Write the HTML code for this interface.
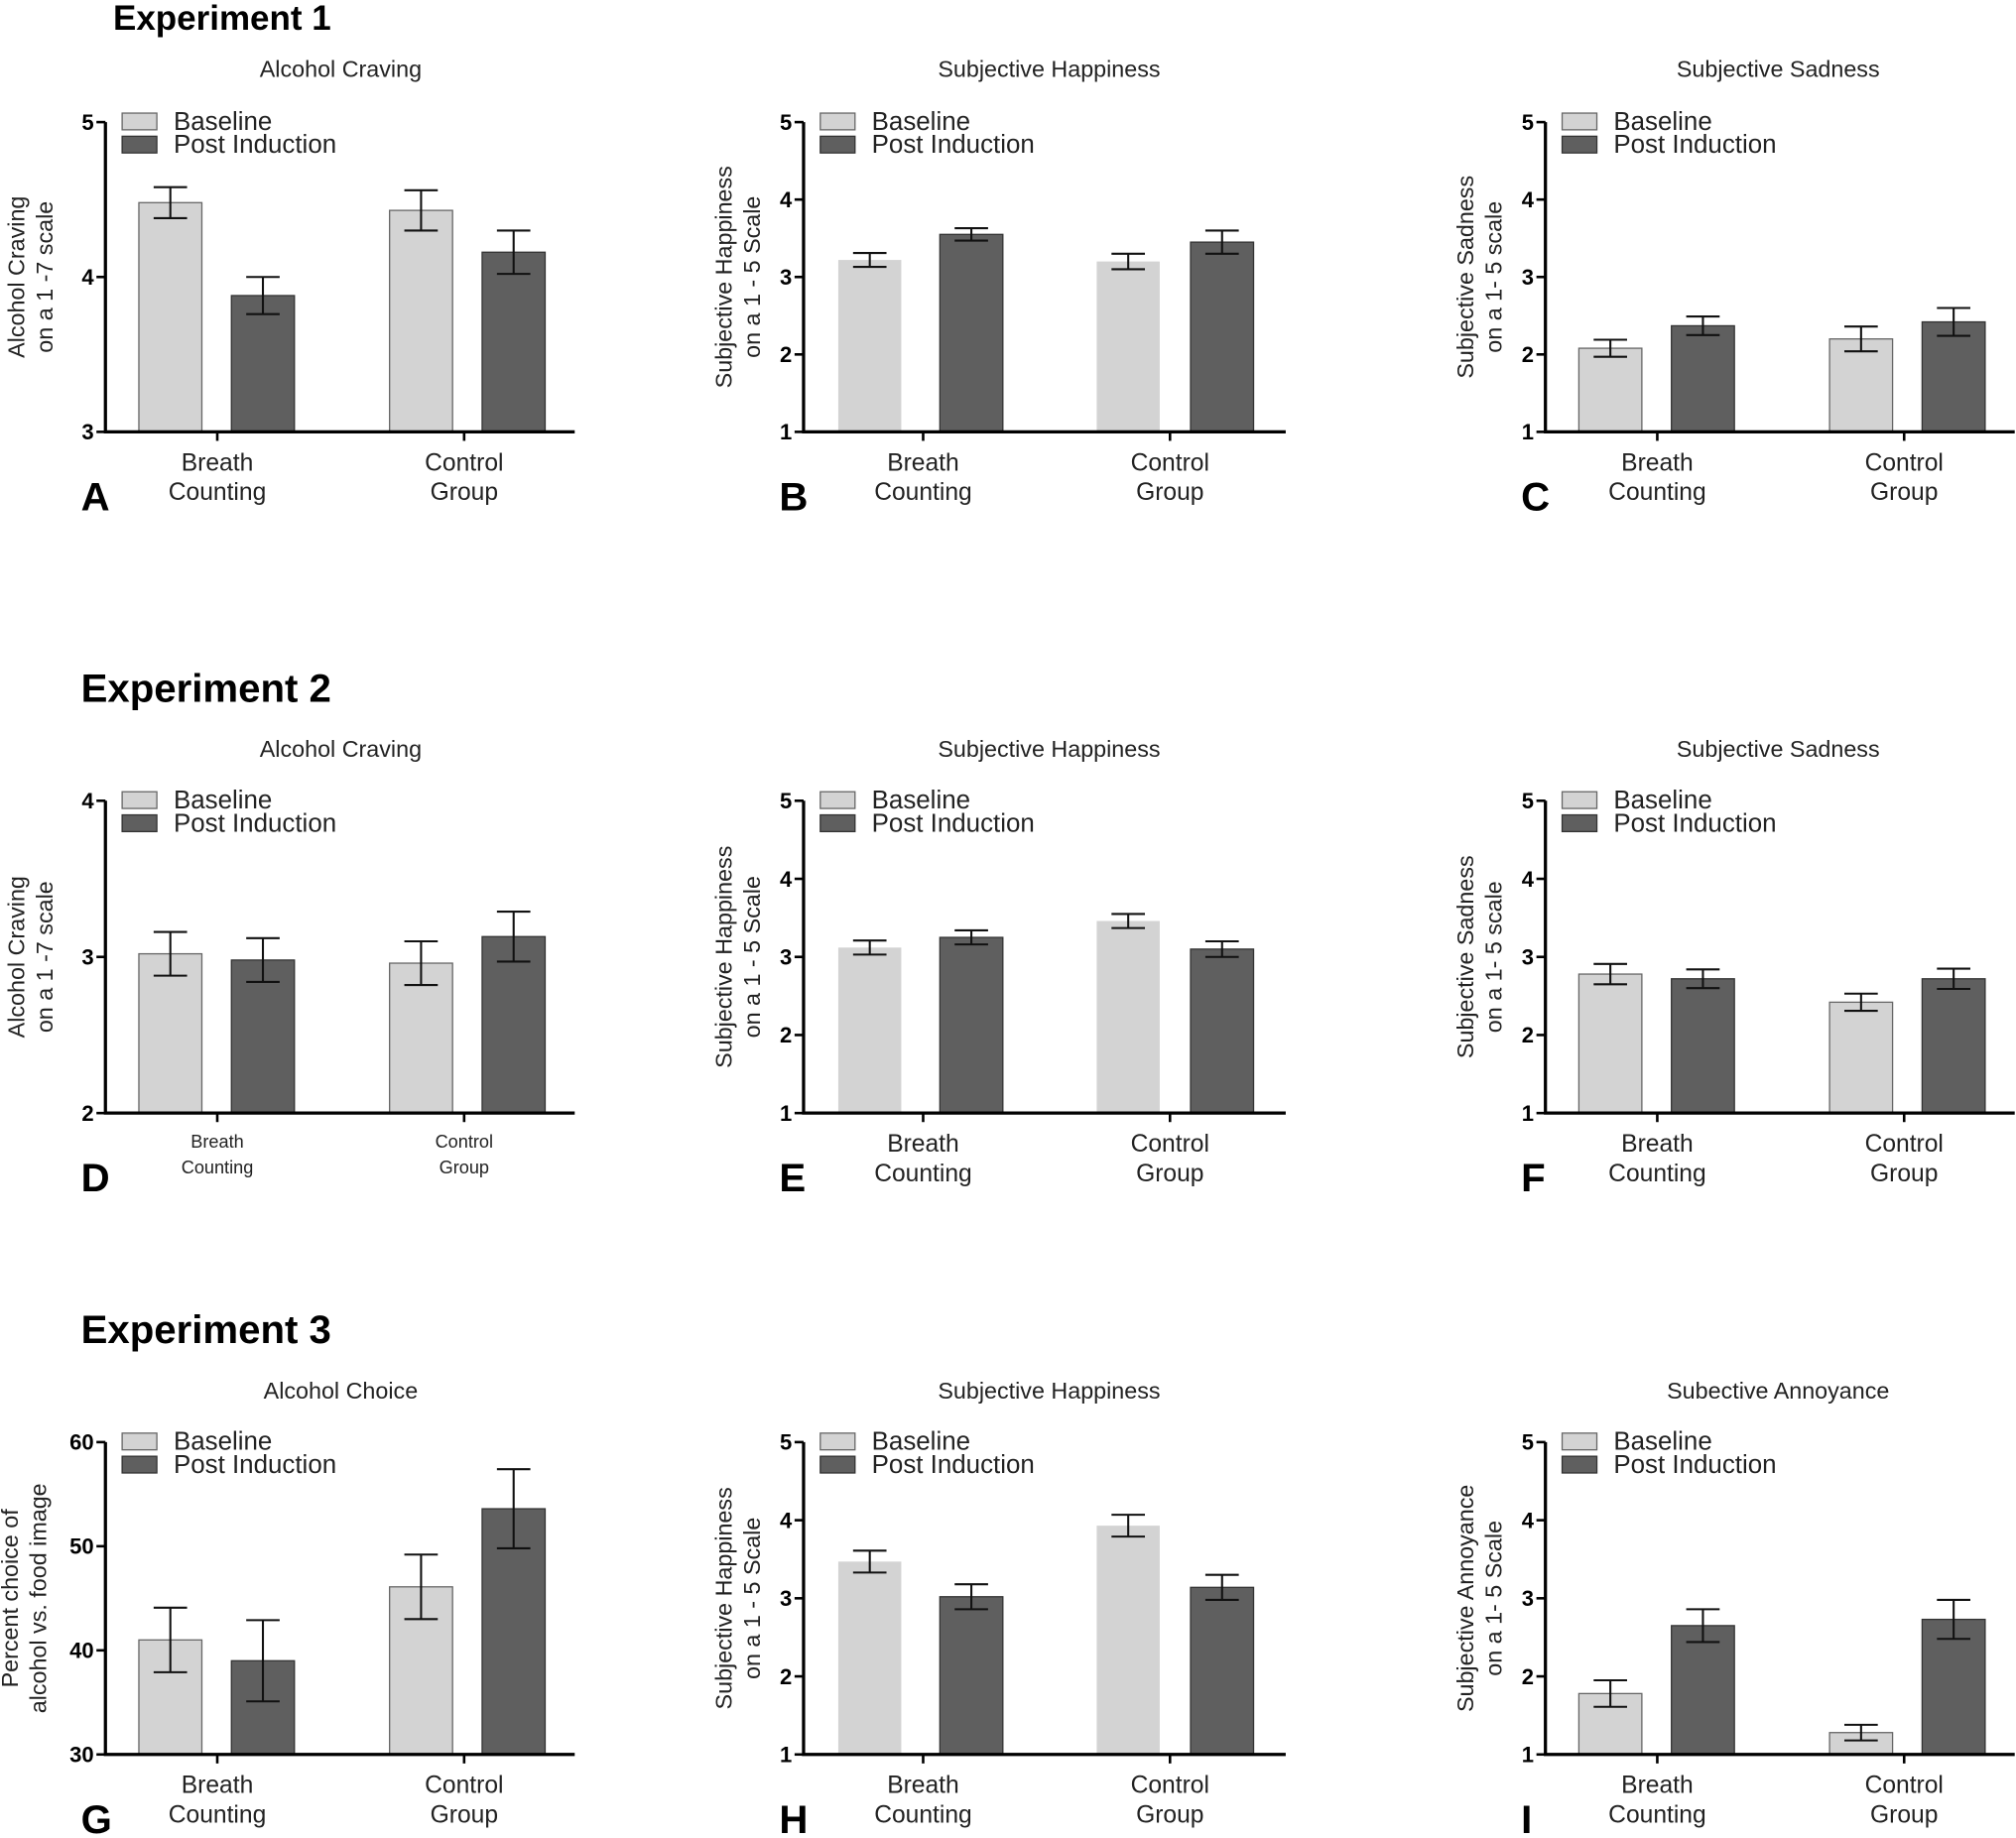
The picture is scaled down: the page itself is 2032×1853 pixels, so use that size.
<!DOCTYPE html>
<html><head><meta charset="utf-8"><style>
html,body{margin:0;padding:0;background:#fff;}
svg{display:block;font-family:"Liberation Sans",Arial,sans-serif;}
</style></head><body>
<svg id="fig" width="2032" height="1853" viewBox="0 0 1568 1430" preserveAspectRatio="none" xmlns="http://www.w3.org/2000/svg">
<text x="88" y="23" font-size="27" font-weight="bold">Experiment 1</text>
<text x="63" y="546" font-size="31" font-weight="bold">Experiment 2</text>
<text x="63" y="1045" font-size="31" font-weight="bold">Experiment 3</text>
</svg>
<script>
const categories = ["Breath|Counting", "Control|Group"];
const panelLetters = ["A","B","C","D","E","F","G","H","I"];
const panelTitles = ["Alcohol Craving","Subjective Happiness","Subjective Sadness","Alcohol Craving","Subjective Happiness","Subjective Sadness","Alcohol Choice","Subjective Happiness","Subective Annoyance"];
const yTitles = ["Alcohol Craving|on a 1 -7 scale","Subjective Happiness|on a 1 - 5 Scale","Subjective Sadness|on a 1- 5 scale","Alcohol Craving|on a 1 -7 scale","Subjective Happiness|on a 1 - 5 Scale","Subjective Sadness|on a 1- 5 scale","Percent choice of|alcohol vs. food image","Subjective Happiness|on a 1 - 5 Scale","Subjective Annoyance|on a 1- 5 Scale"];
const yTicks = [[3,4,5],[1,2,3,4,5],[1,2,3,4,5],[2,3,4],[1,2,3,4,5],[1,2,3,4,5],[30,40,50,60],[1,2,3,4,5],[1,2,3,4,5]];
const baseline = [[4.48,4.43],[3.22,3.20],[2.08,2.20],[3.02,2.96],[3.12,3.46],[2.78,2.42],[41.0,46.1],[3.47,3.93],[1.78,1.28]];
const baselineErr = [[0.10,0.13],[0.09,0.10],[0.11,0.16],[0.14,0.14],[0.09,0.09],[0.13,0.11],[3.1,3.1],[0.14,0.14],[0.17,0.10]];
const post = [[3.88,4.16],[3.55,3.45],[2.37,2.42],[2.98,3.13],[3.25,3.10],[2.72,2.72],[39.0,53.6],[3.02,3.14],[2.65,2.73]];
const postErr = [[0.12,0.14],[0.08,0.15],[0.12,0.18],[0.14,0.16],[0.09,0.10],[0.12,0.13],[3.9,3.8],[0.16,0.16],[0.21,0.25]];

const NS = "http://www.w3.org/2000/svg";
const svg = document.getElementById("fig");
function mk(tag, attrs, parent, text){
  const e = document.createElementNS(NS, tag);
  for (const k in attrs) e.setAttribute(k, attrs[k]);
  if (text !== undefined) e.textContent = text;
  (parent || svg).appendChild(e);
  return e;
}
const colX = [82, 625, 1202];
const rowTop = [95, 623, 1122];
const rowBot = [336, 866, 1365];
const titleY = [60, 589, 1088];
const titleCx = [265, 816, 1383];

for (let p = 0; p < 9; p++) {
  const col = p % 3, row = Math.floor(p/3);
  const ax = colX[col], top = rowTop[row], bot = rowBot[row];
  const g = mk("g", {});
  
  
  const ticks = yTicks[p];
  const ymin = ticks[0], ymax = ticks[ticks.length-1];
  const y = v => bot - (v - ymin) / (ymax - ymin) * (bot - top);
  const t = mk("text", {x: titleCx[col], y: titleY[row], "font-size": 18, "text-anchor": "middle", fill: "#222"}, g, panelTitles[p]);
  
  
  const offs = col === 1 ? [[27, 106], [228, 301]] : [[26, 98], [221, 293]];
  const labCx = col === 1 ? [93, 285] : [87, 279];
  for (let c = 0; c < 2; c++) {
    [[baseline, baselineErr, "#d3d3d3", "#666"], [post, postErr, "#5f5f5f", "#333"]].forEach((s, si) => {
      const x0 = ax + offs[c][si], w = 49;
      const v = s[0][p][c], e = s[1][p][c];
      const r = mk("rect", {x: x0, y: y(v), width: w, height: bot - y(v), fill: s[2], stroke: (col === 1 && si === 0) ? "none" : s[3], "stroke-width": 1}, g);
      
      
      const cx = x0 + w/2;
      const eb = mk("path", {d: `M${cx},${y(v+e)}V${y(v-e)}M${cx-13},${y(v+e)}H${cx+13}M${cx-13},${y(v-e)}H${cx+13}`, stroke: "#111", "stroke-width": 1.6, fill: "none"}, g);
      
      
    });
    const cx = ax + labCx[c];
    mk("line", {x1: cx, y1: bot, x2: cx, y2: bot + 7, stroke: "#000", "stroke-width": 2}, g);
    const small = p === 3;
    const lines = categories[c].split("|");
    lines.forEach((ln, i) => {
      const tl = mk("text", {x: cx, y: bot + (small ? 27 : 30) + i * (small ? 20 : 23), "font-size": small ? 14 : 19, "text-anchor": "middle", fill: "#222"}, g, ln);
      
      
    });
  }
  const axl = mk("path", {d: `M${ax},${top}V${bot}H${ax+ (col===1?375:365)}`, stroke: "#000", "stroke-width": 2.5, fill: "none"}, g);
  
  
  ticks.forEach(tv => {
    mk("line", {x1: ax - 7, y1: y(tv), x2: ax, y2: y(tv), stroke: "#000", "stroke-width": 2}, g);
    const tl = mk("text", {x: ax - 9, y: y(tv) + 6, "font-size": 17, "font-weight": "bold", "text-anchor": "end"}, g, tv);
    
    
  });
  const yl = yTitles[p].split("|");
  const mid = (top + bot) / 2;
  const yx = col === 0 ? (p === 6 ? 14 : 19) : ax - 56;
  yl.forEach((ln, i) => {
    const tx = yx + i * 22;
    const tt = mk("text", {x: tx, y: mid, "font-size": 18, "text-anchor": "middle", fill: "#222", transform: `rotate(-90 ${tx} ${mid})`}, g, ln);
    
    
  });
  [["Baseline", "#d3d3d3", "#666"], ["Post Induction", "#5f5f5f", "#333"]].forEach((L, i) => {
    const ly = top - 7 + i * 18;
    const lb = mk("rect", {x: ax + 13, y: ly, width: 27, height: 13, fill: L[1], stroke: L[2], "stroke-width": 1}, g);
    
    
    const lt = mk("text", {x: ax + 53, y: ly + 13, "font-size": 20, fill: "#222"}, g, L[0]);
    
    
  });
  const pl = mk("text", {x: ax - 19, y: bot + 61, "font-size": 31, "font-weight": "bold"}, g, panelLetters[p]);
  
  
}
</script>
</body></html>
